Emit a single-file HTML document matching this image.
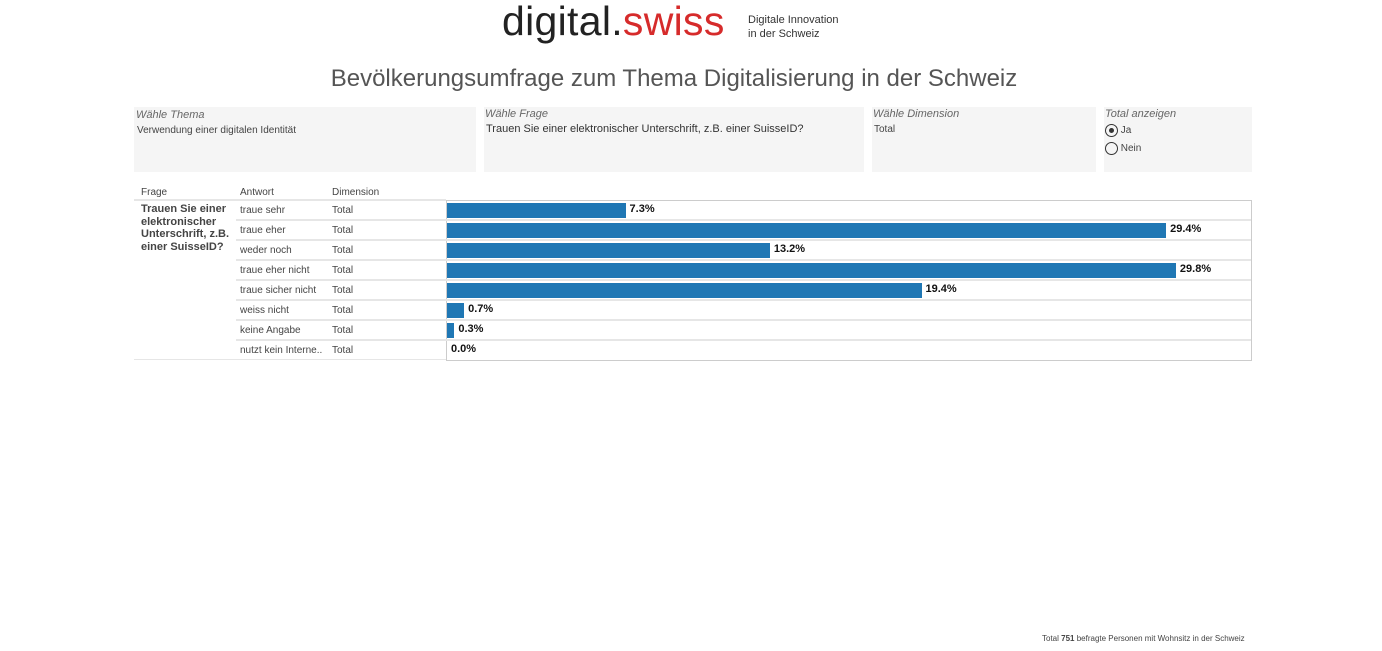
<!DOCTYPE html>
<html><head><meta charset="utf-8">
<style>
body{margin:0;width:1382px;height:651px;background:#fff;position:relative;font-family:"Liberation Sans",sans-serif;overflow:hidden}
.a{position:absolute;white-space:nowrap}
.box{position:absolute;background:#f5f5f5}
.lab{font-style:italic;font-size:11px;color:#666}
.s{font-size:10px;color:#444}
</style></head><body>
<div class="a" style="left:502px;top:-2px;font-size:41px;color:#222;letter-spacing:0.3px">digital.<span style="color:#d62b2b">swiss</span></div>
<div class="a" style="left:748px;top:13px;font-size:11px;line-height:14px;color:#333">Digitale Innovation<br>in der Schweiz</div>
<div class="a" style="left:0;width:1348px;text-align:center;top:65px;font-size:24px;color:#555">Bevölkerungsumfrage zum Thema Digitalisierung in der Schweiz</div>

<div class="box" style="left:134px;top:107px;width:342px;height:65px"><div class="a lab" style="left:2px;top:2px">Wähle Thema</div><div class="a s" style="left:3px;top:18px">Verwendung einer digitalen Identität</div></div>
<div class="box" style="left:484px;top:107px;width:380px;height:65px"><div class="a lab" style="left:1px;top:1px">Wähle Frage</div><div class="a" style="left:2px;top:16px;font-size:11px;color:#333">Trauen Sie einer elektronischer Unterschrift, z.B. einer SuisseID?</div></div>
<div class="box" style="left:872px;top:107px;width:224px;height:65px"><div class="a lab" style="left:1px;top:1px">Wähle Dimension</div><div class="a s" style="left:2px;top:17px">Total</div></div>
<div class="box" style="left:1104px;top:107px;width:148px;height:65px"><div class="a lab" style="left:1px;top:1px">Total anzeigen</div>
<div class="a s" style="left:1px;top:17px"><span style="display:inline-block;width:11px;height:11px;border:1px solid #333;border-radius:50%;vertical-align:middle;position:relative"><span style="position:absolute;left:3px;top:3px;width:5px;height:5px;background:#333;border-radius:50%"></span></span> Ja</div>
<div class="a s" style="left:1px;top:35px"><span style="display:inline-block;width:11px;height:11px;border:1px solid #333;border-radius:50%;vertical-align:middle"></span> Nein</div></div>

<div class="a s" style="left:141px;top:187px">Frage</div>
<div class="a s" style="left:240px;top:187px">Antwort</div>
<div class="a s" style="left:332px;top:187px">Dimension</div>
<div class="a" style="left:134px;top:199px;width:312px;height:2px;background:#e6e6e6"></div>
<div class="a" style="left:134px;top:359px;width:312px;height:1px;background:#e6e6e6"></div>
<div class="a" style="left:141px;top:203px;font-size:11px;font-weight:bold;color:#444;line-height:12.5px;white-space:normal;width:95px">Trauen Sie einer elektronischer Unterschrift, z.B. einer SuisseID?</div>
<div class="a" style="left:446px;top:200px;width:806px;height:161px;border:1px solid #ccc;box-sizing:border-box"></div>
<div id="rows"></div>
<div class="a" style="left:1042px;top:634px;font-size:8px;color:#444">Total <b>751</b> befragte Personen mit Wohnsitz in der Schweiz</div>
<script>
const answers=["traue sehr","traue eher","weder noch","traue eher nicht","traue sicher nicht","weiss nicht","keine Angabe","nutzt kein Interne.."];
const values=[7.3,29.4,13.2,29.8,19.4,0.7,0.3,0.0];
const x=v=>v*24.46, y=i=>200+i*20;
const root=document.getElementById('rows');
answers.forEach((a,i)=>{
 const r=document.createElement('div');
 
 
 r.innerHTML=`<div class="a s" style="left:240px;top:${y(i)+5}px">${a}</div><div class="a s" style="left:332px;top:${y(i)+5}px">Total</div>`+
 (i>0?`<div class="a" style="left:236px;top:${y(i)-1}px;width:1015px;height:2px;background:#e6e6e6"></div>`:'');
 root.appendChild(r);
 const b=document.createElement('div');
 
 
 b.className='a';b.style.cssText=`left:447px;top:${y(i)+3}px;width:${x(values[i])}px;height:15px;background:#1f77b4`;
 root.appendChild(b);
 const l=document.createElement('div');
 
 
 l.className='a';l.style.cssText=`left:${451+x(values[i])}px;top:${y(i)+3}px;font-size:11px;color:#111;font-weight:bold`;
 l.textContent=values[i].toFixed(1)+'%';
 root.appendChild(l);
});
</script>
</body></html>
